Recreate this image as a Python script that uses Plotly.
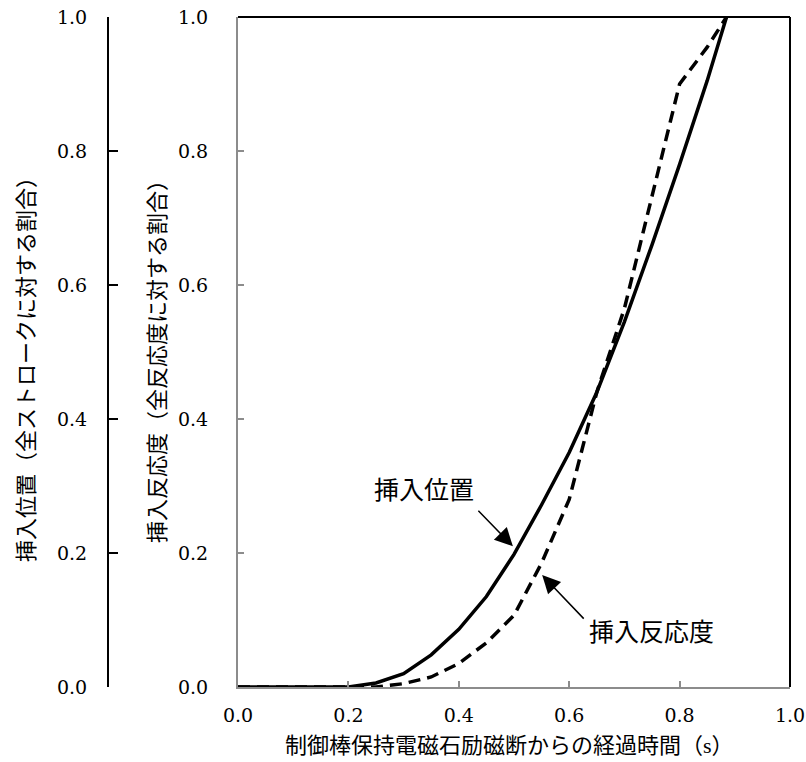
import plotly.graph_objects as go

# Data
time_s = [0, 0.05, 0.1, 0.15, 0.2, 0.25, 0.3, 0.35, 0.4, 0.45, 0.5, 0.55, 0.6, 0.65, 0.7, 0.75, 0.8, 0.85, 0.885]
insert_position = [0, 0, 0, 0, 0, 0.006, 0.02, 0.048, 0.086, 0.135, 0.198, 0.272, 0.35, 0.44, 0.545, 0.66, 0.78, 0.905, 1.0]
insert_reactivity = [0, 0, 0, 0, 0, 0, 0.005, 0.015, 0.035, 0.066, 0.107, 0.185, 0.28, 0.44, 0.565, 0.735, 0.9, 0.955, 1.0]
tick_vals = [0, 0.2, 0.4, 0.6, 0.8, 1.0]

W, H = 806, 762
plot_left, plot_right, plot_top, plot_bottom = 238, 790, 17, 687
ML, MR, MT, MB = 0, W - plot_right, plot_top, H - plot_bottom
PW = W - ML - MR
PH = H - MT - MB
y2_px = 108

NUM_FONT = "DejaVu Serif, Liberation Serif, serif"
TXT_FONT = "Liberation Serif, Noto Sans CJK JP"

fig = go.Figure()
fig.add_trace(go.Scatter(
    x=time_s, y=insert_reactivity, mode="lines", yaxis="y",
    line=dict(color="black", width=3.5, dash="12px,7px"), name="挿入反応度",
))
fig.add_trace(go.Scatter(
    x=time_s, y=insert_position, mode="lines", yaxis="y2",
    line=dict(color="black", width=3.5), name="挿入位置",
))

grey = "#8c8c8c"
tickfont = dict(family=NUM_FONT, size=19, color="black")
fig.update_layout(
    width=W, height=H,
    margin=dict(l=ML, r=MR, t=MT, b=MB, autoexpand=False),
    paper_bgcolor="white", plot_bgcolor="white",
    showlegend=False,
    xaxis=dict(
        domain=[plot_left / PW, 1], range=[0, 1], automargin=False,
        tickvals=tick_vals, tickformat=".1f",
        ticks="inside", ticklen=6, tickcolor=grey, tickwidth=1.5,
        showline=True, linecolor=grey, linewidth=2,
        showgrid=False, zeroline=False,
        tickfont=tickfont, ticklabelstandoff=10,
    ),
    yaxis=dict(
        range=[0, 1], tickvals=tick_vals, tickformat=".1f", automargin=False,
        ticks="inside", ticklen=6, tickcolor=grey, tickwidth=1.5,
        showline=True, linecolor=grey, linewidth=2,
        showgrid=False, zeroline=False,
        tickfont=tickfont, ticklabelstandoff=24,
    ),
    yaxis2=dict(
        overlaying="y", anchor="free", position=y2_px / PW, side="left", automargin=False,
        range=[0, 1], tickvals=tick_vals, tickformat=".1f",
        ticks="inside", ticklen=9, tickcolor="black", tickwidth=2,
        showline=True, linecolor="black", linewidth=2,
        showgrid=False, zeroline=False,
        tickfont=tickfont, ticklabelstandoff=16,
    ),
)

# top and right frame lines (black)
fig.add_shape(type="line", xref="x domain", yref="y domain", x0=0, x1=1, y0=1, y1=1,
              line=dict(color="black", width=2))
fig.add_shape(type="line", xref="x domain", yref="y domain", x0=1, x1=1, y0=0, y1=1,
              line=dict(color="black", width=2))

# axis titles
fig.add_annotation(text="挿入位置（全ストロークに対する割合）", xref="paper", yref="paper",
                   x=26 / PW, y=(plot_bottom - 364) / PH, textangle=-90, showarrow=False,
                   xanchor="center", yanchor="middle",
                   font=dict(family=TXT_FONT, size=22, color="black"))
fig.add_annotation(text="挿入反応度（全反応度に対する割合）", xref="paper", yref="paper",
                   x=157 / PW, y=(plot_bottom - 356) / PH, textangle=-90, showarrow=False,
                   xanchor="center", yanchor="middle",
                   font=dict(family=TXT_FONT, size=22, color="black"))
fig.add_annotation(text="制御棒保持電磁石励磁断からの経過時間（s）", xref="paper", yref="paper",
                   x=509 / PW, y=-(745 - plot_bottom) / PH, showarrow=False,
                   xanchor="center", yanchor="middle",
                   font=dict(family=TXT_FONT, size=22, color="black"))

# labels with arrows
fig.add_annotation(text="挿入位置", x=0.337, y=0.294, xref="x", yref="y", showarrow=False,
                   font=dict(family=TXT_FONT, size=25, color="black"))
fig.add_annotation(text="", x=0.498, y=0.21, xref="x", yref="y", showarrow=True,
                   ax=-36, ay=-37, arrowhead=2, arrowsize=2.4, arrowwidth=1.5, arrowcolor="black")
fig.add_annotation(text="挿入反応度", x=0.749, y=0.082, xref="x", yref="y", showarrow=False,
                   font=dict(family=TXT_FONT, size=25, color="black"))
fig.add_annotation(text="", x=0.551, y=0.167, xref="x", yref="y", showarrow=True,
                   ax=43, ay=45, arrowhead=2, arrowsize=2.4, arrowwidth=1.5, arrowcolor="black")

fig.write_html(
    "out.html",
    config={"displayModeBar": False},
    post_script="document.body.style.margin='0';document.body.style.overflow='hidden';",
)
